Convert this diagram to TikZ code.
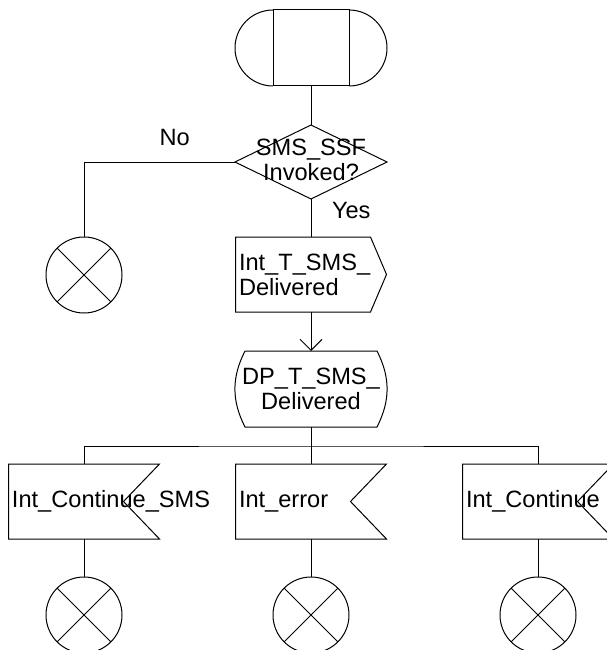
\documentclass[tikz,border=0pt]{standalone}
\usepackage{fontspec}
\setmainfont{Liberation Sans}
\usetikzlibrary{arrows.meta,shapes.geometric}

\begin{document}
\begin{tikzpicture}[x=1pt,y=1pt,
  every node/.style={font=\fontsize{23.6}{25}\selectfont,outer sep=0},
  line/.style={line width=1pt},
  term/.style={draw,line width=1pt,minimum width=76pt,minimum height=76pt,inner sep=0},
  decide/.style={diamond,draw,line width=1pt,minimum width=152pt,minimum height=74pt,inner sep=0},
  box/.style={minimum width=#1,minimum height=75pt,inner sep=0},
  boxtext/.style={anchor=west,align=left,inner sep=3.5pt},
  stopx/.style={circle,draw,line width=1pt,minimum size=76pt,inner sep=0,
    path picture={\draw[line width=1pt]
      (path picture bounding box.north west) -- (path picture bounding box.south east)
      (path picture bounding box.north east) -- (path picture bounding box.south west);}},
  arr/.style={-{Straight Barb[length=11pt,width=22pt]},line width=1pt}
]
\useasboundingbox (0,0) rectangle (607,-650);

\node[term] (start) at (311,-48) {};
\node[decide,label={[align=center,yshift=2pt]center:SMS\_SSF\\Invoked?}] (dec) at (311,-162) {};
\node[stopx] (stopA) at (84,-275) {};
\node[box=151pt,label={[boxtext]west:Int\_T\_SMS\_\\Delivered}] (out) at (311,-274.5) {};
\node[box=132pt,minimum height=76pt,label={[align=center]center:DP\_T\_SMS\_\\Delivered}] (dp) at (311,-389) {};
\coordinate (fork) at (311,-446);
\node[box=151pt,label={[boxtext]west:Int\_Continue\_SMS}] (sigA) at (84,-501.5) {};
\node[box=151pt,label={[boxtext]west:Int\_error}] (sigB) at (311,-501.5) {};
\node[box=151pt,label={[boxtext]west:Int\_Continue}] (sigC) at (538,-501.5) {};
\node[stopx] (stopB) at (84,-615) {};
\node[stopx] (stopC) at (311,-615) {};
\node[stopx] (stopD) at (538,-615) {};

\draw[line] (start.north west) arc[start angle=90,end angle=270,radius=38pt];
\draw[line] (start.north east) arc[start angle=90,end angle=-90,radius=38pt];
\draw[line] (out.north west) -- ([xshift=-16pt]out.north east) -- (out.east)
  -- ([xshift=-16pt]out.south east) -- (out.south west) -- cycle;
\draw[line] (dp.north west) -- (dp.north east) to[bend left=27] (dp.south east)
  -- (dp.south west) to[bend left=27] (dp.north west);
\foreach \s in {sigA,sigB,sigC}
  \draw[line] (\s.north west) -- (\s.north east) -- ([xshift=-36pt]\s.east)
    -- (\s.south east) -- (\s.south west) -- cycle;

\draw[line] (start) -- (dec);
\draw[line] (dec.west) -| node[pos=0.2,above=12pt,inner sep=4pt] {No} (stopA);
\draw[line] (dec) -- node[midway,anchor=base west,xshift=17pt,inner sep=4pt] {Yes} (out);
\draw[arr] (out) -- (dp);
\draw[line] (dp) -- (sigB);
\draw[line] (sigA) |- (fork) -| (sigC);
\draw[line] (sigA) -- (stopB);
\draw[line] (sigB) -- (stopC);
\draw[line] (sigC) -- (stopD);
\end{tikzpicture}
\end{document}
